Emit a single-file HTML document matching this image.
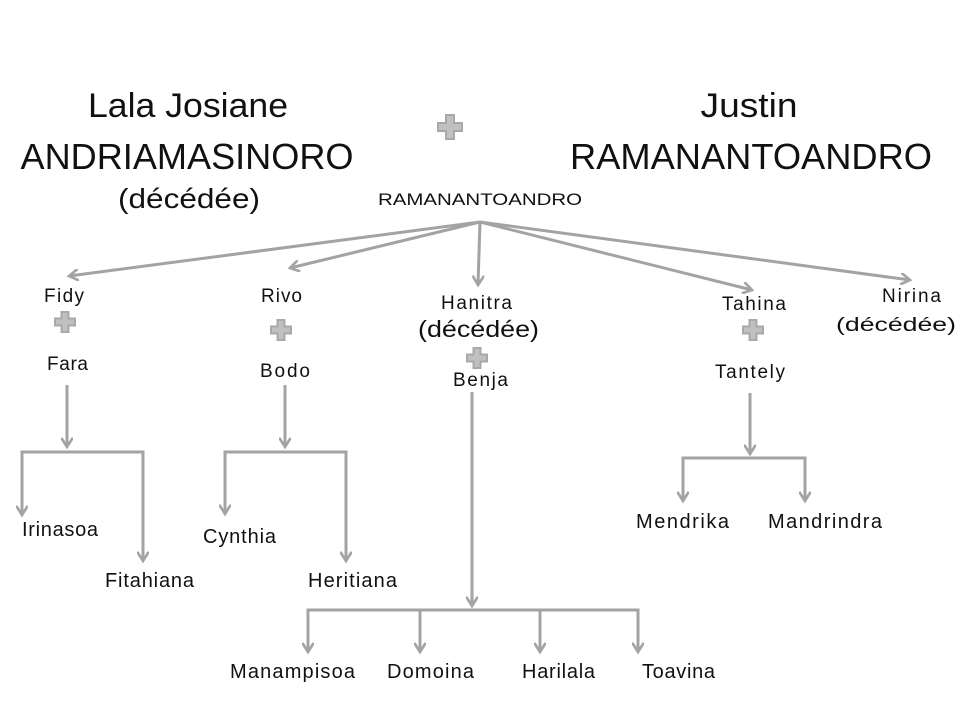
<!DOCTYPE html>
<html><head><meta charset="utf-8"><style>
html,body{margin:0;padding:0;background:#fff;}
svg{display:block;}
text{font-family:"Liberation Sans Narrow","Liberation Sans",sans-serif;fill:#111;}
</style></head><body>
<svg width="960" height="720" viewBox="0 0 960 720" xmlns="http://www.w3.org/2000/svg">
<defs>
<marker id="a" viewBox="0 0 10 10" refX="8" refY="5" markerWidth="4" markerHeight="4" orient="auto" markerUnits="strokeWidth">
<path d="M0,0 L8,5 L0,10" fill="none" stroke="#a3a3a3" stroke-width="2.2"/>
</marker>
<g id="p"><path d="M-4,-12 h8 v8 h8 v8 h-8 v8 h-8 v-8 h-8 v-8 h8z" fill="#c0c0c0" stroke="#a8a8a8" stroke-width="2"/></g>
<g id="ps"><path d="M-3.5,-10 h7 v6.5 h6.5 v7 h-6.5 v6.5 h-7 v-6.5 h-6.5 v-7 h6.5z" fill="#c0c0c0" stroke="#a8a8a8" stroke-width="2"/></g>
</defs>
<g stroke="#a3a3a3" stroke-width="3" fill="none">
<line x1="480" y1="222" x2="69" y2="276" marker-end="url(#a)"/>
<line x1="480" y1="222" x2="290" y2="268" marker-end="url(#a)"/>
<line x1="480" y1="222" x2="478" y2="285" marker-end="url(#a)"/>
<line x1="480" y1="222" x2="752" y2="290" marker-end="url(#a)"/>
<line x1="480" y1="222" x2="910" y2="280" marker-end="url(#a)"/>
<line x1="67" y1="385" x2="67" y2="447" marker-end="url(#a)"/>
<path d="M22,515 V452 H143 V560"/>
<line x1="22" y1="505" x2="22" y2="515" marker-end="url(#a)"/>
<line x1="143" y1="550" x2="143" y2="561" marker-end="url(#a)"/>
<line x1="285" y1="385" x2="285" y2="447" marker-end="url(#a)"/>
<path d="M225,513 V452 H346 V560"/>
<line x1="225" y1="503" x2="225" y2="514" marker-end="url(#a)"/>
<line x1="346" y1="550" x2="346" y2="561" marker-end="url(#a)"/>
<line x1="472" y1="392" x2="472" y2="606" marker-end="url(#a)"/>
<path d="M308,651 V610 H638 V651 M420,610 V651 M540,610 V651"/>
<line x1="308" y1="641" x2="308" y2="652" marker-end="url(#a)"/>
<line x1="420" y1="641" x2="420" y2="652" marker-end="url(#a)"/>
<line x1="540" y1="641" x2="540" y2="652" marker-end="url(#a)"/>
<line x1="638" y1="641" x2="638" y2="652" marker-end="url(#a)"/>
<line x1="750" y1="393" x2="750" y2="454" marker-end="url(#a)"/>
<path d="M683,500 V458 H805 V500"/>
<line x1="683" y1="490" x2="683" y2="501" marker-end="url(#a)"/>
<line x1="805" y1="490" x2="805" y2="501" marker-end="url(#a)"/>
</g>
<use href="#p" x="450" y="127"/>
<use href="#ps" x="65" y="322"/>
<use href="#ps" x="281" y="330"/>
<use href="#ps" x="477" y="358"/>
<use href="#ps" x="753" y="330"/>
<g text-anchor="middle">
<text x="188" y="117" font-size="34" textLength="200" lengthAdjust="spacingAndGlyphs">Lala Josiane</text>
<text x="187" y="169" font-size="36" textLength="333" lengthAdjust="spacingAndGlyphs">ANDRIAMASINORO</text>
<text x="189" y="208" font-size="28" style="font-family:'Liberation Sans',sans-serif" textLength="142" lengthAdjust="spacingAndGlyphs">(décédée)</text>
<text x="749" y="117" font-size="34" textLength="97" lengthAdjust="spacingAndGlyphs">Justin</text>
<text x="751" y="169" font-size="36" textLength="362" lengthAdjust="spacingAndGlyphs">RAMANANTOANDRO</text>
<text x="480" y="205" font-size="17" textLength="204" lengthAdjust="spacingAndGlyphs">RAMANANTOANDRO</text>
</g>
<g font-size="19" lengthAdjust="spacingAndGlyphs">
<text x="44" y="302" textLength="40">Fidy</text>
<text x="47" y="370" textLength="41">Fara</text>
<text x="261" y="302" textLength="41">Rivo</text>
<text x="260" y="377" textLength="50">Bodo</text>
<text x="441" y="309" textLength="71">Hanitra</text>
<text x="453" y="386" textLength="55">Benja</text>
<text x="722" y="310" textLength="64">Tahina</text>
<text x="715" y="378" textLength="70">Tantely</text>
<text x="882" y="302" textLength="59">Nirina</text>
</g>
<text x="418" y="337" font-size="23" style="font-family:'Liberation Sans',sans-serif" textLength="121" lengthAdjust="spacingAndGlyphs">(décédée)</text>
<text x="836" y="331" font-size="19" style="font-family:'Liberation Sans',sans-serif" textLength="120" lengthAdjust="spacingAndGlyphs">(décédée)</text>
<g font-size="20" lengthAdjust="spacingAndGlyphs">
<text x="22" y="536" textLength="76">Irinasoa</text>
<text x="105" y="587" textLength="89">Fitahiana</text>
<text x="203" y="543" textLength="73">Cynthia</text>
<text x="308" y="587" textLength="89">Heritiana</text>
<text x="230" y="678" textLength="125">Manampisoa</text>
<text x="387" y="678" textLength="87">Domoina</text>
<text x="522" y="678" textLength="73">Harilala</text>
<text x="642" y="678" textLength="73">Toavina</text>
<text x="636" y="528" textLength="93">Mendrika</text>
<text x="768" y="528" textLength="114">Mandrindra</text>
</g>
</svg>
</body></html>
